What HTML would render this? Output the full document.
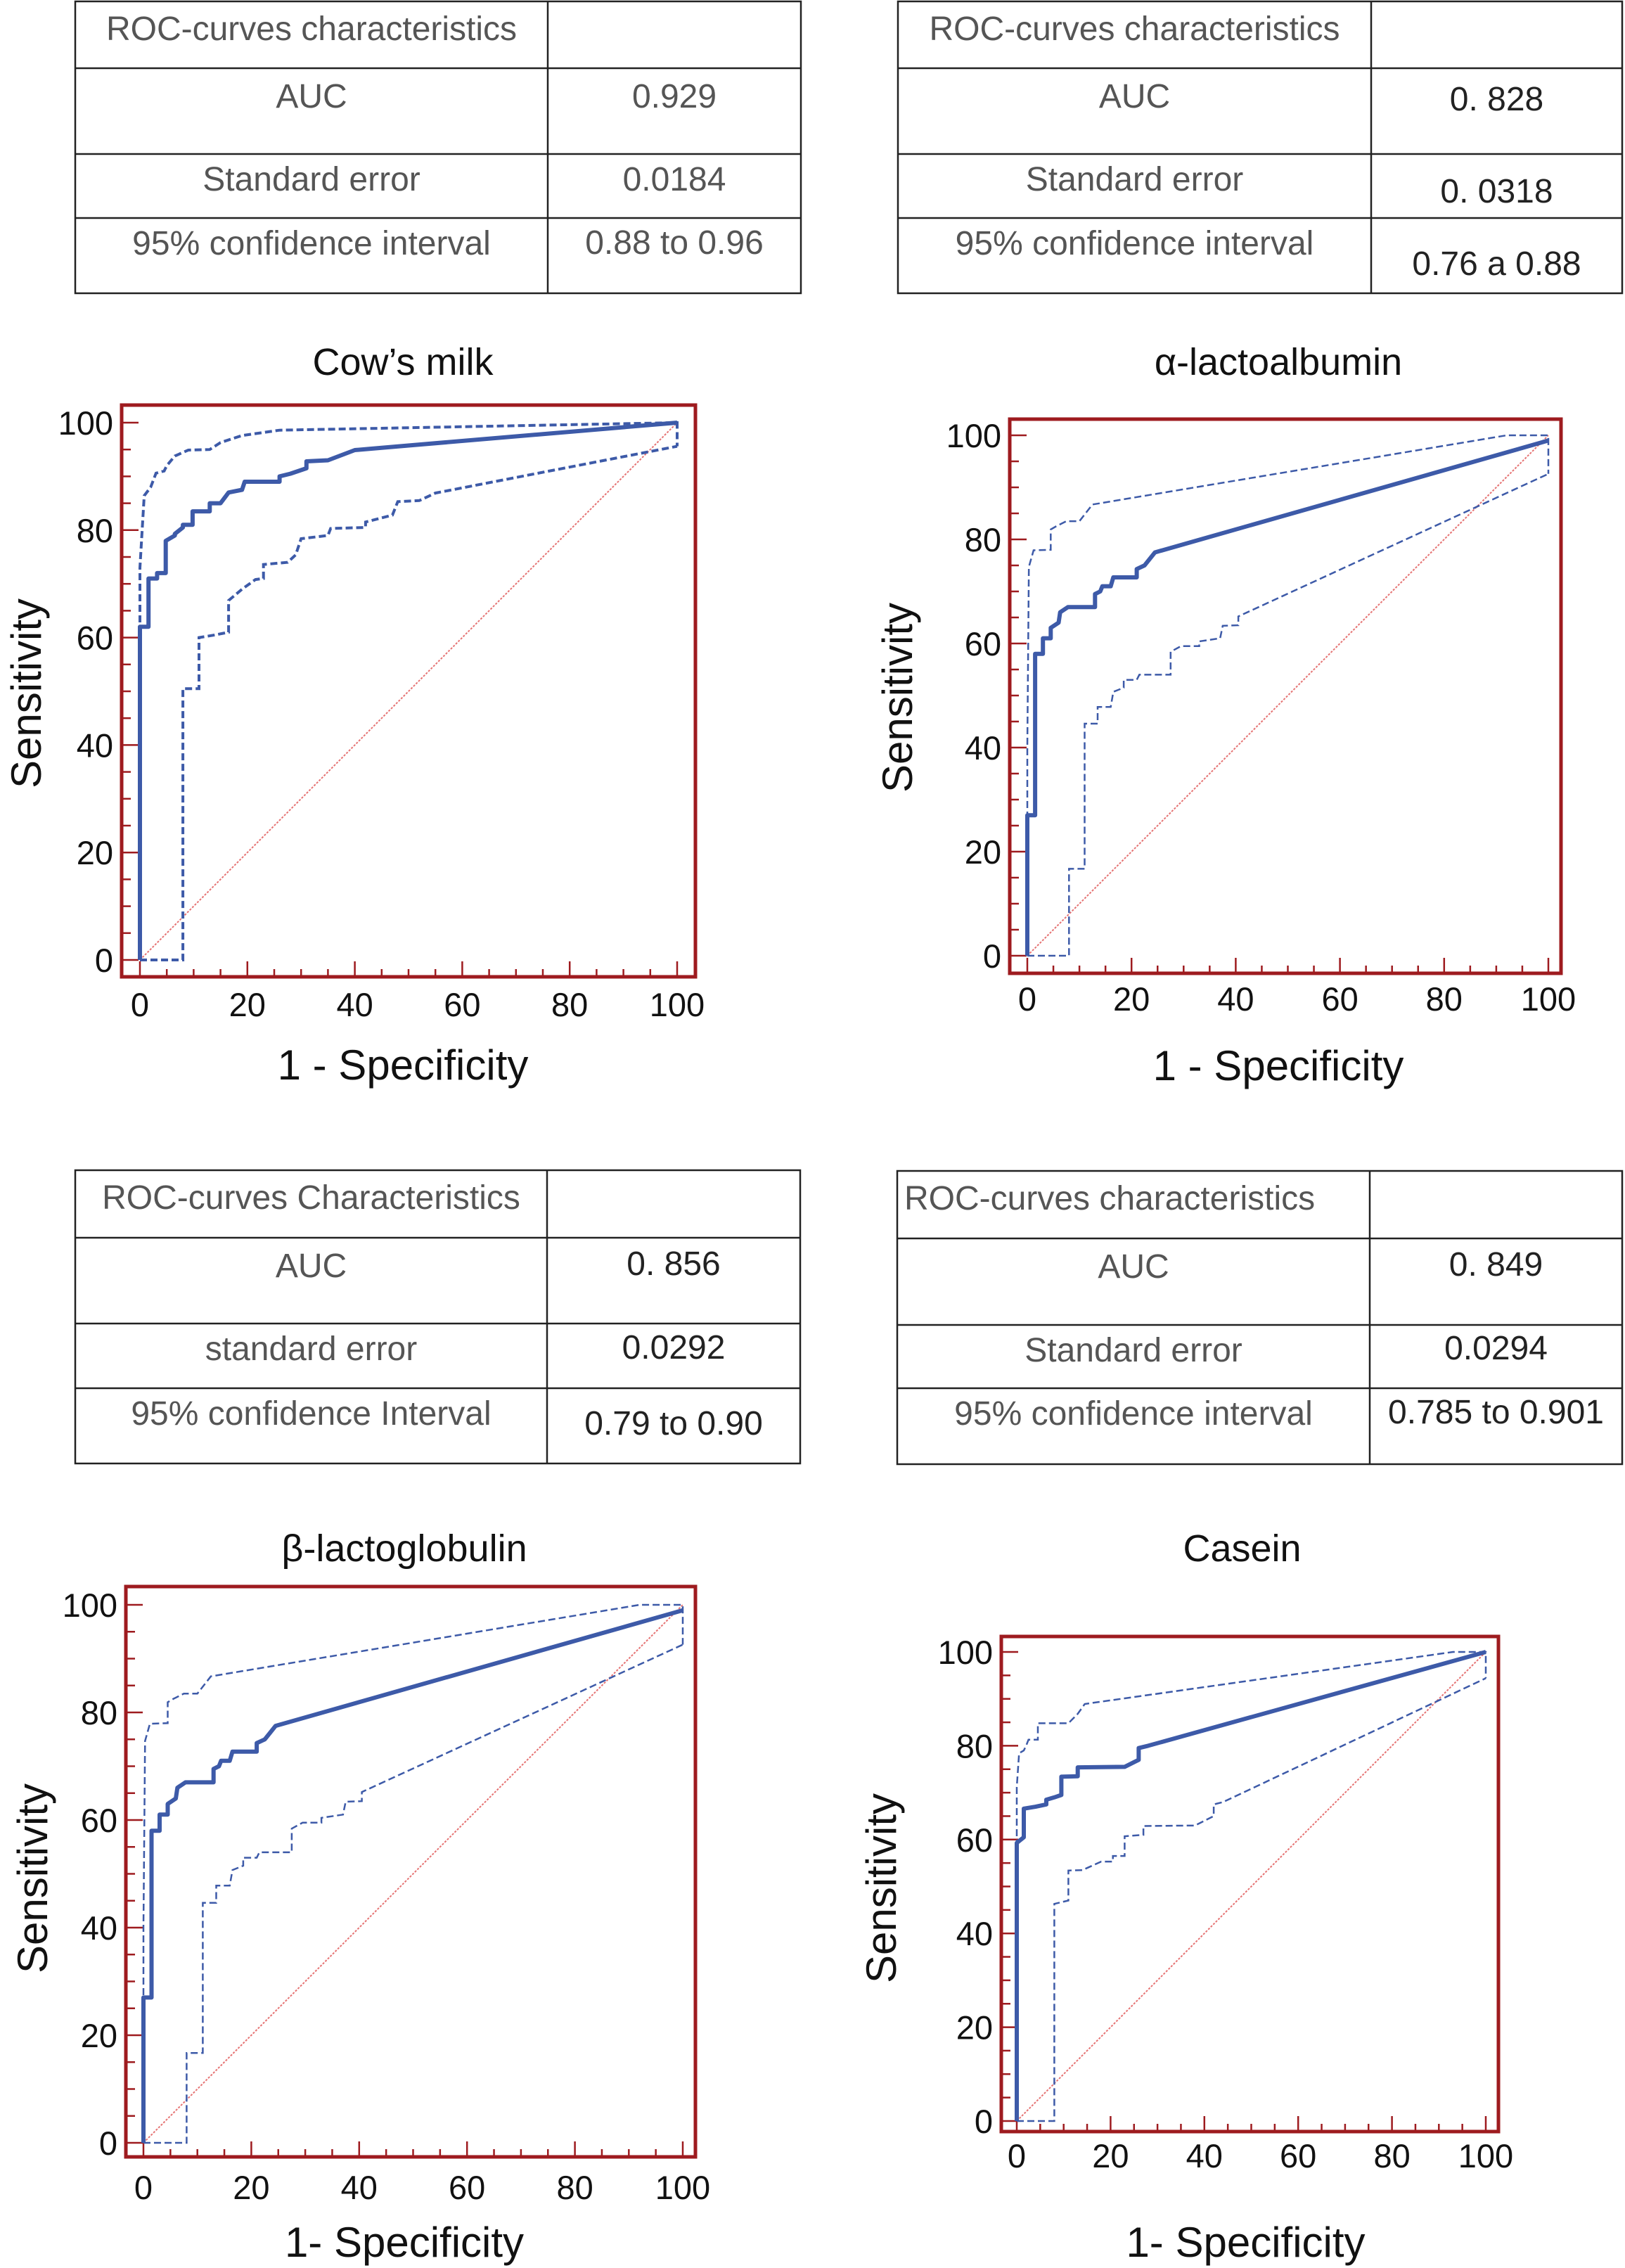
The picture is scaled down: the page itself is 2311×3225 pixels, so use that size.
<!DOCTYPE html>
<html><head><meta charset="utf-8"><style>
html,body{margin:0;padding:0;background:#fff;}
svg{display:block;font-family:"Liberation Sans",Arial,sans-serif;}
</style></head><body>
<svg id="fig" xmlns="http://www.w3.org/2000/svg" width="2311" height="3225" viewBox="0 0 2311 3225">
<rect x="0" y="0" width="2311" height="3225" fill="#fff"/>
</svg>
<script>
// ---- chart data (percent) ----
const tickLabels = [0, 20, 40, 60, 80, 100];
// Cow's milk
const cowMainX = [0,0,1.6,1.6,3.2,3.2,4.8,4.8,6.5,6.5,8,8,9.8,9.8,13,13,15,16.5,19,19.5,26,26,28,31,31,35,40,100];
const cowMainY = [0,62,62,71,71,72,72,78,79,79.3,80.5,81,81,83.5,83.5,85,85,87,87.5,89,89,90,90.5,91.5,92.8,93,94.9,100];
const cowUpX = [0,0,0.5,0.8,2,3,4.5,5,6.5,9,13,15,19,26,100,100];
const cowUpY = [0,73,81.4,86.4,88,90.6,91,92,93.8,94.9,95,96.3,97.6,98.6,100,95.6];
const cowLoX = [0,8,8,11,11,14,16.5,16.5,19,21.5,23,23,27.5,29,30,35,35.5,42,42,47,48,52,55,100];
const cowLoY = [0,0,50.5,50.5,60,60.5,61,66.9,69,70.8,71,73.6,74,75.4,78.4,79,80.3,80.5,81.5,82.8,85.3,85.5,86.9,95.6];
// alpha-lactoalbumin
const alaMainX = [0,0,1.5,1.5,3,3,4.5,4.5,6,6.3,7.8,13,13,14,14.4,16,16.5,21,21,22.5,24.5,100];
const alaMainY = [0,27,27,58,58,61,61,63,64,66,67,67,69.5,70,71,71,72.7,72.7,74.3,75,77.5,99];
const alaUpX = [0,0,0.3,1.2,4.5,4.5,5.5,7.5,10,12.5,92,100,100];
const alaUpY = [0,40,74.7,77.9,78,81.9,82.5,83.5,83.5,86.7,100,100,92.6];
const alaLoX = [0,8,8,11,11,13.5,13.5,16,16.5,18.5,18.5,21,21.5,27.5,27.5,29.5,33,33,37,37.5,40.5,40.5,100];
const alaLoY = [0,0,16.7,16.7,44.6,44.6,47.8,47.8,50.7,51.5,53,53,54,54,58.4,59.5,59.5,60.4,61,63.4,63.5,65.2,92.6];
// beta-lactoglobulin
const blgMainX = [0,0,1.5,1.5,3,3,4.5,4.5,6,6.3,7.8,13,13,14,14.4,16,16.5,21,21,22.5,24.5,100];
const blgMainY = [0,27,27,58,58,61,61,63,64,66,67,67,69.5,70,71,71,72.7,72.7,74.3,75,77.5,99];
const blgUpX = [0,0,0.3,1.2,4.5,4.5,5.5,7.5,10,12.5,92,100,100];
const blgUpY = [0,40,74.7,77.9,78,81.9,82.5,83.5,83.5,86.7,100,100,92.6];
const blgLoX = [0,8,8,11,11,13.5,13.5,16,16.5,18.5,18.5,21,21.5,27.5,27.5,29.5,33,33,37,37.5,40.5,40.5,100];
const blgLoY = [0,0,16.7,16.7,44.6,44.6,47.8,47.8,50.7,51.5,53,53,54,54,58.4,59.5,59.5,60.4,61,63.4,63.5,65.2,92.6];
// Casein
const casMainX = [0,0,1.5,1.5,4,6.3,6.3,8,9.5,9.5,13,13,23,25,26,26,28,100];
const casMainY = [0,59.3,60.5,66.6,67,67.5,68.5,69,69.5,73.4,73.5,75.4,75.5,76.5,77,79.5,80,100];
const casUpX = [0,0,0.5,1.5,2,2.5,4.5,4.5,11,13,14.5,93,100,100];
const casUpY = [0,71.2,78.4,79,80,81.3,81.3,84.8,84.8,86.8,88.9,100,100,94.4];
const casLoX = [0,8,8,11,11,14,18,20.5,20.5,23,23,27,27,38,42,42,44,100];
const casLoY = [0,0,46.3,47,53.4,53.5,55.3,55.3,56.5,56.5,60.7,61,62.9,63,65,67.5,68,94.4];

const NS = "http://www.w3.org/2000/svg";
const svg = document.getElementById('fig');
function el(tag, attrs, parent){
  const e = document.createElementNS(NS, tag);
  for (const k in attrs) e.setAttribute(k, attrs[k]);
  (parent||svg).appendChild(e);
  return e;
}
function txt(x, y, s, size, color, anchor, parent){
  const t = el('text', {x:x, y:y, 'font-size':size, fill:color, 'text-anchor':anchor||'middle'}, parent);
  t.textContent = s;
  return t;
}

// ---- tables ----
function table(name, x0, xd, x1, rows, labels, values, labColor, valColor, valYs, headerLeft){
  const g = el('g', {});
  
  
  const st = {stroke:'#222', 'stroke-width':2.5, fill:'none'};
  el('rect', Object.assign({x:x0, y:rows[0], width:x1-x0, height:rows[4]-rows[0]}, st), g);
  for (let i=1;i<4;i++) el('line', Object.assign({x1:x0, x2:x1, y1:rows[i], y2:rows[i]}, st), g);
  el('line', Object.assign({x1:xd, x2:xd, y1:rows[0], y2:rows[4]}, st), g);
  const labYs = [rows[0]+55, rows[1]+56, rows[2]+52, rows[3]+52];
  for (let i=0;i<4;i++){
    let t;
    if (i===0 && headerLeft) t = txt(x0+10, labYs[0], labels[0], 48, labColor, 'start', g);
    else t = txt((x0+xd)/2, labYs[i], labels[i], 48, labColor, 'middle', g);
    
    
  }
  for (let i=0;i<3;i++){
    const t = txt((xd+x1)/2, valYs[i], values[i], 48, valColor, 'middle', g);
    
    
  }
}
table('cows-milk-table', 107, 779, 1139, [2,97,219,310,417],
  ['ROC-curves characteristics','AUC','Standard error','95% confidence interval'],
  ['0.929','0.0184','0.88 to 0.96'], '#555', '#555', [153,271,361], false);
table('alpha-lactoalbumin-table', 1277, 1950, 2307, [2,97,219,310,417],
  ['ROC-curves characteristics','AUC','Standard error','95% confidence interval'],
  ['0. 828','0. 0318','0.76 a 0.88'], '#555', '#222', [157,288,391], false);
table('beta-lactoglobulin-table', 107, 778, 1138, [1664,1760,1882,1974,2081],
  ['ROC-curves Characteristics','AUC','standard error','95% confidence Interval'],
  ['0. 856','0.0292','0.79 to 0.90'], '#555', '#222', [1813,1932,2040], false);
table('casein-table', 1276, 1948, 2307, [1665,1761,1884,1974,2082],
  ['ROC-curves characteristics','AUC','Standard error','95% confidence interval'],
  ['0. 849','0.0294','0.785 to 0.901'], '#555', '#222', [1814,1933,2024], true);

// ---- charts ----
function chart(name, title, xlabel, fr, ax, lab, mainX, mainY, upX, upY, loX, loY, dashW){
  const g = el('g', {});
  
  
  const sx = v => ax.x0 + (ax.x1-ax.x0)*v/100;
  const sy = v => ax.y0 - (ax.y0-ax.y1)*v/100;
  const red = '#9e1b1f';
  for (let v=0; v<=100; v+=5){
    const major = v%20===0;
    el('line', {x1:fr.l, x2:fr.l+(major?24:13), y1:sy(v), y2:sy(v), stroke:red, 'stroke-width':2.5}, g);
    el('line', {x1:sx(v), x2:sx(v), y1:fr.b, y2:fr.b-(major?22:11), stroke:red, 'stroke-width':2.5}, g);
  }
  const d = el('line', {x1:sx(0), y1:sy(0), x2:sx(100), y2:sy(100), stroke:'#e57373', 'stroke-width':2, 'stroke-dasharray':'3,2'}, g);
  
  
  const pts = (X,Y) => X.map((x,i)=>sx(x).toFixed(1)+','+sy(Y[i]).toFixed(1)).join(' ');
  const up = el('polyline', {points:pts(upX,upY), fill:'none', stroke:'#3d5aa8', 'stroke-width':dashW, 'stroke-dasharray':'10,5'}, g);
  
  
  const lo = el('polyline', {points:pts(loX,loY), fill:'none', stroke:'#3d5aa8', 'stroke-width':dashW, 'stroke-dasharray':'10,5'}, g);
  
  
  const m = el('polyline', {points:pts(mainX,mainY), fill:'none', stroke:'#3d5aa8', 'stroke-width':6, 'stroke-linejoin':'round'}, g);
  
  
  const f = el('rect', {x:fr.l, y:fr.t, width:fr.r-fr.l, height:fr.b-fr.t, fill:'none', stroke:red, 'stroke-width':5}, g);
  
  
  tickLabels.forEach(v=>{
    const a = txt(fr.l-12, sy(v)+17, String(v), 47, '#111', 'end', g);
    
    
    const b = txt(sx(v), lab.tickY+17, String(v), 47, '#111', 'middle', g);
    
    
  });
  const t = txt((fr.l+fr.r)/2 + (lab.titleDx||0), lab.titleY+19, title, 54, '#111', 'middle', g);
  
  
  const xl = txt((fr.l+fr.r)/2 + (lab.xlDx||0), lab.xlY+21, xlabel, 60, '#111', 'middle', g);
  
  
  const yl = txt(0, 0, 'Sensitivity', 60, '#111', 'middle', g);
  yl.setAttribute('transform', 'translate('+(lab.ylX+21)+','+lab.ylY+') rotate(-90)');
  
  
}

chart('cows-milk-chart', 'Cow\u2019s milk', '1 - Specificity',
  {l:173,t:576,r:989,b:1389}, {x0:199,x1:963,y0:1365,y1:601},
  {tickY:1428, titleY:514, titleDx:-8, xlY:1514, xlDx:-8, ylX:37, ylY:986},
  cowMainX, cowMainY, cowUpX, cowUpY, cowLoX, cowLoY, 4);
chart('alpha-lactoalbumin-chart', '\u03B1-lactoalbumin', '1 - Specificity',
  {l:1436,t:596,r:2220,b:1384}, {x0:1461,x1:2202,y0:1359,y1:619},
  {tickY:1420, titleY:514, titleDx:-10, xlY:1515, xlDx:-10, ylX:1276, ylY:992},
  alaMainX, alaMainY, alaUpX, alaUpY, alaLoX, alaLoY, 2.5);
chart('beta-lactoglobulin-chart', '\u03B2-lactoglobulin', '1- Specificity',
  {l:179,t:2256,r:989,b:3067}, {x0:204,x1:971,y0:3047,y1:2282},
  {tickY:3110, titleY:2201, titleDx:-9, xlY:3188, xlDx:-9, ylX:46, ylY:2671},
  blgMainX, blgMainY, blgUpX, blgUpY, blgLoX, blgLoY, 2.5);
chart('casein-chart', 'Casein', '1- Specificity',
  {l:1424,t:2327,r:2131,b:3031}, {x0:1446,x1:2113,y0:3016,y1:2349},
  {tickY:3065, titleY:2201, titleDx:-11, xlY:3188, xlDx:-6, ylX:1253, ylY:2685},
  casMainX, casMainY, casUpX, casUpY, casLoX, casLoY, 2.5);
</script>
</body></html>
